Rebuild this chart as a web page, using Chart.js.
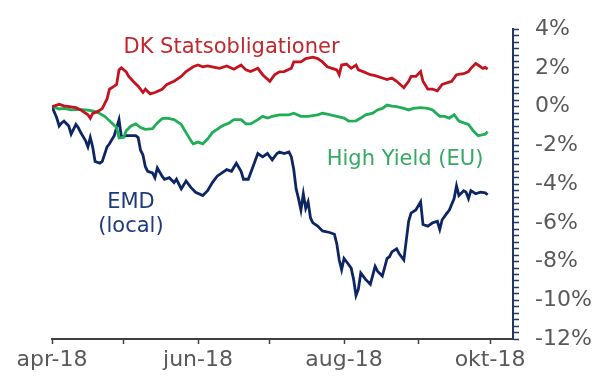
<!DOCTYPE html>
<html lang="da">
<head>
<meta charset="utf-8">
<script src="https://cdn.jsdelivr.net/npm/chart.js@4.4.0/dist/chart.umd.min.js"></script>
<style>
    html, body { margin: 0; padding: 0; background: #fff; }
    #wrap { width: 610px; height: 385px; }
</style>
</head>
<body>
<div id="wrap"><canvas id="afkast" width="610" height="385"></canvas></div>
<script>
// Dage regnet fra 1. april 2018, afkast i procent
const dkDage = [0, 3, 5, 10, 12, 15, 16, 17, 19, 21, 23, 24, 26, 27, 28, 29, 31, 32, 34, 36, 38, 39, 41, 43, 46, 48, 51, 54, 56, 59, 61, 63, 65, 68, 70, 73, 76, 79, 81, 83, 86, 88, 91, 93, 95, 97, 100, 101, 104, 106, 109, 111, 113, 115, 117, 119, 120, 121, 123, 125, 127, 128, 130, 133, 135, 138, 140, 142, 144, 147, 149, 150, 152, 154, 155, 157, 159, 161, 163, 165, 167, 169, 172, 174, 175, 177, 178, 180, 181, 182];
const dkAfkast = [0, 0.12, 0.04, -0.05, -0.17, -0.42, -0.6, -0.35, -0.26, -0.1, 0.4, 0.9, 1.06, 1.15, 1.9, 2.0, 1.8, 1.57, 1.3, 1.06, 0.73, 0.9, 0.66, 0.73, 0.9, 1.15, 1.31, 1.56, 1.81, 2.06, 2.15, 2.06, 2.1, 2.03, 1.98, 2.1, 1.93, 2.15, 1.9, 1.81, 1.98, 1.65, 1.31, 1.65, 1.8, 1.81, 1.98, 2.31, 2.31, 2.48, 2.56, 2.48, 2.31, 2.06, 1.98, 1.9, 1.65, 2.15, 2.2, 1.98, 2.15, 1.9, 1.81, 1.65, 1.6, 1.48, 1.4, 1.48, 1.31, 0.98, 1.31, 1.56, 1.56, 1.81, 1.31, 0.9, 0.9, 0.82, 1.15, 1.23, 1.31, 1.65, 1.7, 1.81, 1.98, 2.23, 2.15, 1.98, 2.03, 1.94];

const hyDage = [0, 3, 5, 8, 11, 14, 17, 19, 22, 25, 27, 28, 30, 31, 33, 35, 37, 39, 42, 44, 46, 48, 51, 54, 56, 58, 59, 61, 63, 65, 67, 69, 71, 74, 76, 79, 81, 83, 86, 88, 90, 92, 95, 96, 99, 101, 104, 107, 111, 113, 115, 119, 122, 124, 127, 129, 131, 134, 136, 138, 140, 142, 144, 147, 149, 151, 154, 157, 159, 162, 164, 166, 168, 170, 172, 174, 176, 178, 180, 181, 182];
const hyAfkast = [0, -0.12, -0.09, -0.17, -0.14, -0.17, -0.22, -0.29, -0.5, -0.84, -1.08, -1.62, -1.58, -1.25, -1.0, -0.89, -1.08, -1.17, -1.14, -0.84, -0.62, -0.59, -0.67, -0.92, -1.34, -1.75, -1.92, -1.83, -1.92, -1.67, -1.34, -1.17, -1.0, -0.84, -0.67, -0.67, -0.89, -0.89, -0.67, -0.5, -0.59, -0.5, -0.42, -0.42, -0.42, -0.34, -0.5, -0.5, -0.42, -0.34, -0.39, -0.5, -0.59, -0.75, -0.73, -0.59, -0.42, -0.34, -0.17, -0.09, 0.08, 0.03, 0, -0.09, -0.17, -0.09, -0.05, -0.09, -0.17, -0.5, -0.5, -0.59, -0.42, -0.75, -0.84, -0.92, -1.25, -1.5, -1.45, -1.42, -1.29];

const emdDage = [0, 2, 3, 4, 5, 7, 8, 10, 11, 12, 14, 15, 16, 17, 18, 20, 21, 23, 24, 26, 27, 28, 29, 31, 33, 35, 36, 37, 38, 39, 40, 42, 43, 44, 46, 47, 49, 51, 52, 54, 56, 58, 60, 63, 65, 67, 69, 71, 73, 75, 77, 79, 80, 82, 84, 86, 88, 90, 92, 94, 95, 97, 99, 100, 101, 102, 103, 104, 105, 106, 107, 108, 109, 111, 113, 116, 118, 119, 120, 121, 122, 123, 125, 126, 127, 128, 129, 131, 133, 135, 136, 138, 140, 141, 142, 144, 145, 147, 148, 149, 150, 152, 154, 155, 157, 159, 161, 162, 163, 165, 166, 168, 169, 170, 172, 173, 174, 175, 177, 179, 181, 182];
const emdAfkast = [0, -0.59, -1.0, -0.84, -0.75, -1.0, -1.42, -0.92, -1.09, -1.34, -1.75, -2.08, -1.59, -2.08, -2.83, -2.92, -2.83, -2.08, -1.92, -1.5, -1.09, -0.67, -1.58, -1.5, -1.5, -1.5, -1.6, -2.25, -2.5, -3.1, -3.34, -3.42, -3.67, -3.17, -3.59, -3.75, -3.67, -3.92, -3.75, -4.25, -3.84, -4.17, -4.42, -4.59, -4.34, -3.92, -3.59, -3.42, -3.25, -3.34, -2.92, -3.34, -3.75, -3.75, -3.09, -2.42, -2.59, -2.42, -2.75, -2.42, -2.34, -2.42, -2.34, -2.6, -3.25, -4.25, -4.75, -5.34, -4.5, -5.25, -4.92, -5.75, -6.0, -6.17, -6.42, -6.5, -6.59, -7.09, -7.92, -8.42, -7.84, -8.0, -8.34, -8.92, -9.75, -9.42, -8.59, -8.92, -9.17, -8.25, -8.5, -8.75, -7.84, -7.75, -7.5, -7.34, -7.59, -7.92, -6.92, -5.92, -5.5, -5.34, -4.92, -6.09, -6.17, -6.0, -5.92, -6.34, -5.84, -5.5, -5.34, -4.75, -4.09, -4.59, -4.34, -4.42, -4.75, -4.34, -4.5, -4.42, -4.45, -4.55];

// Akser
const maanedStart = [0, 30, 61, 91, 122, 153, 183];
const maanedLabels = ['apr-18', '', 'jun-18', '', 'aug-18', '', 'okt-18'];
const yMaerker = [4, 2, 0, -2, -4, -6, -8, -10, -12];

// Serienavne skrevet direkte i grafen
const etiketter = [
    { tekst: 'DK Statsobligationer', dag: 75, vaerdi: 3.05, farve: '#c1272d' },
    { tekst: 'High Yield (EU)', dag: 147.5, vaerdi: -2.75, farve: '#35a865' },
    { tekst: 'EMD', dag: 33, vaerdi: -4.97, farve: '#1f3a7a' },
    { tekst: '(local)', dag: 33, vaerdi: -6.17, farve: '#1f3a7a' }
];

const FONT = '"DejaVu Sans", Verdana, sans-serif';

function punkter(dage, vaerdier) {
    return dage.map((d, i) => ({ x: d, y: vaerdier[i] }));
}

const etiketPlugin = {
    id: 'etiketter',
    afterDatasetsDraw(chart) {
        const { ctx, scales } = chart;
        ctx.save();
        ctx.font = '21px ' + FONT;
        ctx.textAlign = 'center';
        ctx.textBaseline = 'middle';
        etiketter.forEach(e => {
            ctx.fillStyle = e.farve;
            ctx.fillText(e.tekst, scales.x.getPixelForValue(e.dag), scales.y.getPixelForValue(e.vaerdi));
        });
        ctx.restore();
    }
};

const linje = (label, data, farve) => ({
    label, data,
    borderColor: farve,
    borderWidth: 2.8,
    pointRadius: 0,
    tension: 0,
    fill: false
});

new Chart(document.getElementById('afkast'), {
    type: 'line',
    data: {
        datasets: [
            linje('DK Statsobligationer', punkter(dkDage, dkAfkast), '#c3131f'),
            linje('High Yield (EU)', punkter(hyDage, hyAfkast), '#1fae55'),
            linje('EMD (local)', punkter(emdDage, emdAfkast), '#0d2663')
        ]
    },
    options: {
        responsive: false,
        animation: false,
        layout: { padding: { left: 52, top: 18, right: 0, bottom: 0 } },
        plugins: { legend: { display: false }, tooltip: { enabled: false } },
        scales: {
            x: {
                type: 'linear',
                min: 0,
                max: 192.6,
                afterBuildTicks: s => { s.ticks = maanedStart.map(v => ({ value: v })); },
                afterFit: s => { s.height = 46; },
                grid: { drawOnChartArea: false, tickLength: 5, color: '#404040', tickWidth: 1.5 },
                border: { color: '#404040', width: 2 },
                ticks: {
                    autoSkip: false,
                    maxRotation: 0,
                    padding: 3,
                    color: '#595959',
                    font: { family: FONT, size: 22 },
                    callback: (v, i) => maanedLabels[i]
                }
            },
            y: {
                position: 'right',
                min: -12,
                max: 4,
                // små streger for hver 1/3 procentpoint, tal ved hver 2.
                afterBuildTicks: s => {
                    const t = [];
                    for (let k = 0; k <= 48; k++) t.push({ value: -12 + k / 3 });
                    s.ticks = t;
                },
                afterFit: s => { s.width = 97; },
                grid: { drawOnChartArea: false, tickLength: 6, color: '#1f3864', tickWidth: 1.5 },
                border: { color: '#1f3864', width: 2 },
                ticks: {
                    autoSkip: false,
                    padding: 16,
                    color: '#595959',
                    font: { family: FONT, size: 22 },
                    callback: v => {
                        const m = yMaerker.find(y => Math.abs(y - v) < 0.01);
                        return m === undefined ? '' : m + '%';
                    }
                }
            }
        }
    },
    plugins: [etiketPlugin]
});
</script>
</body>
</html>
